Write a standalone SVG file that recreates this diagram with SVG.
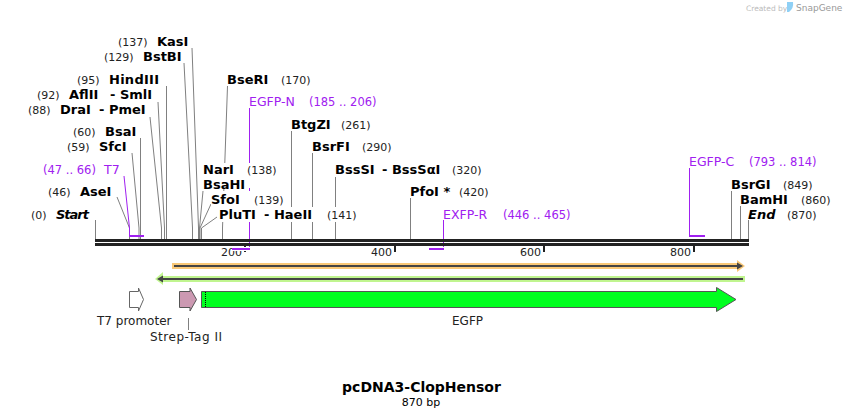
<svg xmlns="http://www.w3.org/2000/svg" width="844" height="418" viewBox="0 0 844 418">
<style>
text{font-family:"DejaVu Sans",sans-serif;fill:#000}
.n{font-size:11px;fill:#222}
.b{font-size:13px;font-weight:bold}
.i{font-size:13px;font-weight:bold;font-style:italic}
.p{font-size:12.5px;fill:#a020f0}
.pn{font-size:11.5px;fill:#a020f0}
.f{font-size:12px;fill:#222}
.s{fill:none;stroke:#808080;stroke-width:1}
.pl{fill:none;stroke:#a020f0;stroke-width:1}
.pb{fill:none;stroke:#a020f0;stroke-width:2}
.w{fill:#fff}
</style>
<g id="connectors">
<path class="s" d="M95.500 220V239"/>
<path class="s" d="M117 197L129.500 228V239"/>
<path class="s" d="M132 153L139 228V239"/>
<path class="s" d="M140.500 138V239"/>
<path class="s" d="M150 117L161.500 228V239"/>
<path class="s" d="M158 102L164.500 228V239"/>
<path class="s" d="M166.500 86V239"/>
<path class="s" d="M184 63L192.500 228V239"/>
<path class="s" d="M192 48L198.500 228V239"/>
<path class="s" d="M227.500 86L222.500 228V239"/>
<path class="s" d="M203 191L199.500 228V239"/>
<path class="s" d="M211 204L200 228V239"/>
<path class="s" d="M217 217L201.500 228V239"/>
<path class="s" d="M291.500 131V239"/>
<path class="s" d="M312.500 153V239"/>
<path class="s" d="M335.500 176V239"/>
<path class="s" d="M410.500 198V239"/>
<path class="s" d="M731.500 191V239"/>
<path class="s" d="M740.500 206V239"/>
<path class="s" d="M748.500 220V239"/>
<path class="pl" d="M124 176L129.500 228V236"/>
<path class="pl" d="M249.500 108V249"/>
<path class="pl" d="M443.500 220V249"/>
<path class="pl" d="M689.500 168V236"/>
<path class="s" d="M188.500 318V330"/>
</g>
<g id="backbone">
<rect x="95" y="239" width="654" height="3" fill="#222"/>
<rect x="95" y="243" width="654" height="3" fill="#222"/>
<text class="n" x="221" y="256">200</text>
<text class="n" x="371" y="256">400</text>
<text class="n" x="520" y="256">600</text>
<text class="n" x="670" y="256">800</text>
<path d="M245 246V252M395 246V252M544 246V252M694 246V252" stroke="#222" stroke-width="2" fill="none"/>
<path d="M232 249H250M429 249H444" stroke="#fff" stroke-width="4" fill="none"/>
<path class="pb" d="M129 236H144M232 249H250M429 249H444M689 236H705"/>
</g>
<g id="site-Start"><rect class="w" x="29" y="208" width="62" height="14"/><text class="n" x="31" y="219">(0)</text><text class="i" x="56" y="219" textLength="33">Start</text></g>
<g id="site-AseI"><text class="n" x="48" y="196">(46)</text><text class="b" x="80" y="196">AseI</text></g>
<g id="primer-T7"><text class="pn" x="43" y="174">(47 .. 66)</text><text class="p" x="104" y="174">T7</text></g>
<g id="site-SfcI"><text class="n" x="67" y="151">(59)</text><text class="b" x="99" y="151">SfcI</text></g>
<g id="site-BsaI"><text class="n" x="73" y="136">(60)</text><text class="b" x="105" y="136">BsaI</text></g>
<g id="site-DraI"><text class="n" x="28" y="114">(88)</text><text class="b" x="60" y="114">DraI</text><text class="b" x="99" y="114">- PmeI</text></g>
<g id="site-AflII"><text class="n" x="37" y="99">(92)</text><text class="b" x="69" y="99">AflII</text><text class="b" x="110" y="99">- SmlI</text></g>
<g id="site-HindIII"><text class="n" x="77" y="84">(95)</text><text class="b" x="109" y="84" textLength="50">HindIII</text></g>
<g id="site-BstBI"><text class="n" x="104" y="61">(129)</text><text class="b" x="143" y="61">BstBI</text></g>
<g id="site-KasI"><text class="n" x="118" y="46">(137)</text><text class="b" x="157" y="46">KasI</text></g>
<g id="site-BseRI"><text class="b" x="227" y="84">BseRI</text><text class="n" x="281" y="84">(170)</text></g>
<g id="primer-EGFP-N"><text class="p" x="249" y="106">EGFP-N</text><text class="pn" x="309" y="106">(185 .. 206)</text></g>
<g id="site-BtgZI"><text class="b" x="291" y="129">BtgZI</text><text class="n" x="341" y="129">(261)</text></g>
<g id="site-BsrFI"><text class="b" x="312" y="151">BsrFI</text><text class="n" x="362" y="151">(290)</text></g>
<g id="site-BssSI"><rect class="w" x="335" y="163" width="150" height="14"/><text class="b" x="335" y="174">BssSI</text><text class="b" x="382" y="174">- BssSαI</text><text class="n" x="452" y="174">(320)</text></g>
<g id="site-PfoI"><text class="b" x="410" y="196">PfoI *</text><text class="n" x="459" y="196">(420)</text></g>
<g id="site-NarI"><rect class="w" x="203" y="163" width="75" height="25"/><text class="b" x="203" y="174">NarI</text><text class="n" x="247" y="174">(138)</text></g>
<g id="site-BsaHI"><text class="b" x="203" y="189">BsaHI</text></g>
<g id="site-SfoI"><rect class="w" x="211" y="191" width="74" height="16"/><text class="b" x="211" y="204">SfoI</text><text class="n" x="254" y="204">(139)</text></g>
<g id="site-PluTI"><rect class="w" x="219" y="207" width="140" height="15"/><text class="b" x="219" y="219">PluTI</text><text class="b" x="264" y="219">- HaeII</text><text class="n" x="327" y="219">(141)</text></g>
<g id="primer-EXFP-R"><text class="p" x="443" y="219">EXFP-R</text><text class="pn" x="503" y="219">(446 .. 465)</text></g>
<g id="primer-EGFP-C"><text class="p" x="689" y="166">EGFP-C</text><text class="pn" x="749" y="166">(793 .. 814)</text></g>
<g id="site-BsrGI"><text class="b" x="731" y="189">BsrGI</text><text class="n" x="783" y="189">(849)</text></g>
<g id="site-BamHI"><text class="b" x="740" y="204">BamHI</text><text class="n" x="801" y="204">(860)</text></g>
<g id="site-End"><text class="i" x="748" y="219">End</text><text class="n" x="787" y="219">(870)</text></g>
<g id="strand-forward">
<path d="M172 263H737V260L745 266L737 272V269H172Z" fill="#f9c877"/>
<path d="M174 266H738" stroke="#444" stroke-width="2"/><path d="M737 262.500L743 266L737 269.500Z" fill="#444"/>
</g>
<g id="strand-reverse">
<path d="M745 276H163V272L155 279L163 285V282H745Z" fill="#c0f58f"/>
<path d="M160 279H743" stroke="#444" stroke-width="2"/><path d="M163 275.500L157 279L163 282.500Z" fill="#444"/>
</g>
<g id="feature-T7-promoter">
<path d="M129.500 291.500H138.500V288L143.500 299.500L138.500 311V307.500H129.500Z" fill="#fff" stroke="#666" stroke-width="1"/>
<text class="f" x="97" y="325">T7 promoter</text>
</g>
<g id="feature-Strep-Tag">
<path d="M179.500 291.500H190V288L196.500 299.500L190 311V307.500H179.500Z" fill="#cc99b2" stroke="#555" stroke-width="1"/>
<text class="f" x="150" y="341" textLength="72">Strep-Tag II</text>
</g>
<g id="feature-EGFP">
<path d="M201.500 291.500H716.500V287.500L736 299.500L716.500 311.500V307.500H201.500Z" fill="#00ff1f" stroke="#555" stroke-width="1"/>
<path d="M205.500 292V307" stroke="#000" stroke-width="1" stroke-dasharray="1 1"/>
<text class="f" x="452" y="325">EGFP</text>
</g>
<g id="title">
<text x="421.500" y="392" text-anchor="middle" font-size="14" font-weight="bold">pcDNA3-ClopHensor</text>
<text x="421" y="406" text-anchor="middle" font-size="11" fill="#222">870 bp</text>
</g>
<g id="watermark">
<text x="746" y="11" font-size="7.500" style="fill:#bbb">Created by</text>
<path d="M787 2H793Q794 8 789 12L787 12Z" fill="#8fd0f5"/>
<text x="796" y="11" font-size="9" style="fill:#999">SnapGene</text>
</g>
</svg>
